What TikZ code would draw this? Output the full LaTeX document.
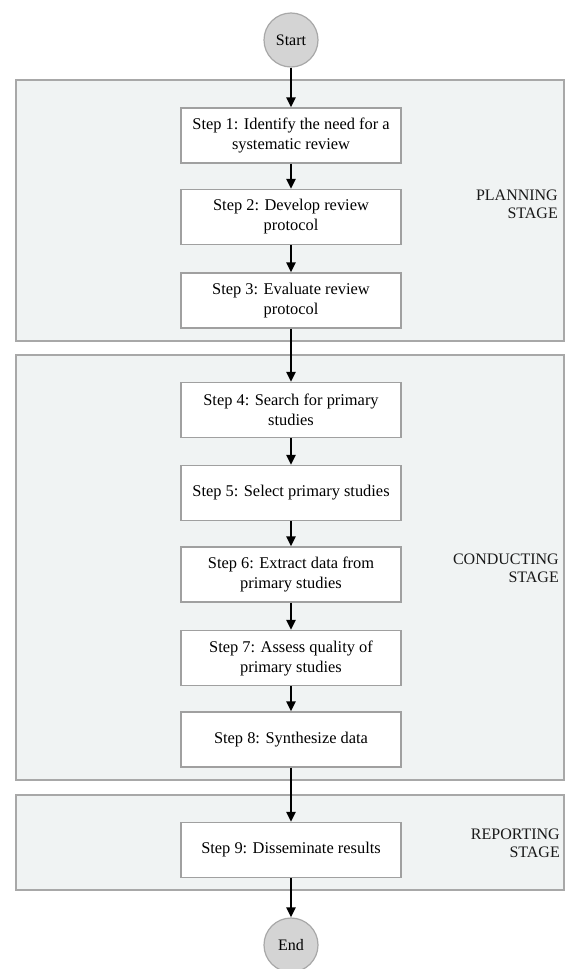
\documentclass[tikz,border=0pt]{standalone}
\usepackage{fontspec}
\setmainfont{Liberation Serif}
\usetikzlibrary{arrows.meta}
\definecolor{stagefill}{HTML}{F0F3F3}
\definecolor{stageedge}{HTML}{A8A8A8}
\definecolor{boxedge}{HTML}{A0A0A0}
\definecolor{circfill}{HTML}{D4D4D4}
\tikzset{
  stagebox/.style={draw=stageedge, fill=stagefill, line width=1.6pt},
  stepbox/.style={draw=boxedge, fill=white, line width=1.2pt, minimum width=220pt, minimum height=55pt, align=center, inner sep=2pt, font=\fontsize{16.4}{20}\selectfont},
  terminal/.style={circle, draw=stageedge, fill=circfill, line width=1.2pt, minimum size=54pt, inner sep=0pt, font=\fontsize{16}{18}\selectfont},
  stagelabel/.style={anchor=east, align=right, inner sep=0pt, text=black!90, font=\fontsize{16}{18}\selectfont},
  flow/.style={draw=black, line width=2.2pt, -{Triangle[length=10pt,width=9pt]}}
}
\begin{document}
\begin{tikzpicture}[x=1pt,y=-1pt]
\useasboundingbox (0,0) rectangle (566,969);
\fill[white] (0,0) rectangle (566,969);
% stage panels
\draw[stagebox] (16,80) rectangle (564,341);
\draw[stagebox] (16,355) rectangle (564,780);
\draw[stagebox] (16,795) rectangle (564,890);
% stage labels
\node[stagelabel] (lplan) at (558,204) {PLANNING\\STAGE};
\node[stagelabel] (lcond) at (559,568) {CONDUCTING\\STAGE};
\node[stagelabel] (lrep) at (560,843) {REPORTING\\STAGE};
% terminals
\node[terminal] (start) at (291,40) {Start};
\node[terminal] (end) at (291,945) {End};
% steps
\node[stepbox] (s1) at (291,135.5) {Step 1: Identify the need for a\\systematic review};
\node[stepbox] (s2) at (291,217) {Step 2: Develop review\\protocol};
\node[stepbox] (s3) at (291,300.5) {Step 3: Evaluate review\\protocol};
\node[stepbox] (s4) at (291,410) {Step 4: Search for primary\\studies};
\node[stepbox] (s5) at (291,493) {Step 5: Select primary studies};
\node[stepbox] (s6) at (291,574.5) {Step 6: Extract data from\\primary studies};
\node[stepbox] (s7) at (291,658) {Step 7: Assess quality of\\primary studies};
\node[stepbox] (s8) at (291,739.5) {Step 8: Synthesize data};
\node[stepbox] (s9) at (291,850) {Step 9: Disseminate results};
% connectors
\draw[flow] (start) -- (s1);
\draw[flow] (s1) -- (s2);
\draw[flow] (s2) -- (s3);
\draw[flow] (s3) -- (s4);
\draw[flow] (s4) -- (s5);
\draw[flow] (s5) -- (s6);
\draw[flow] (s6) -- (s7);
\draw[flow] (s7) -- (s8);
\draw[flow] (s8) -- (s9);
\draw[flow] (s9) -- (end);
\end{tikzpicture}
\end{document}
